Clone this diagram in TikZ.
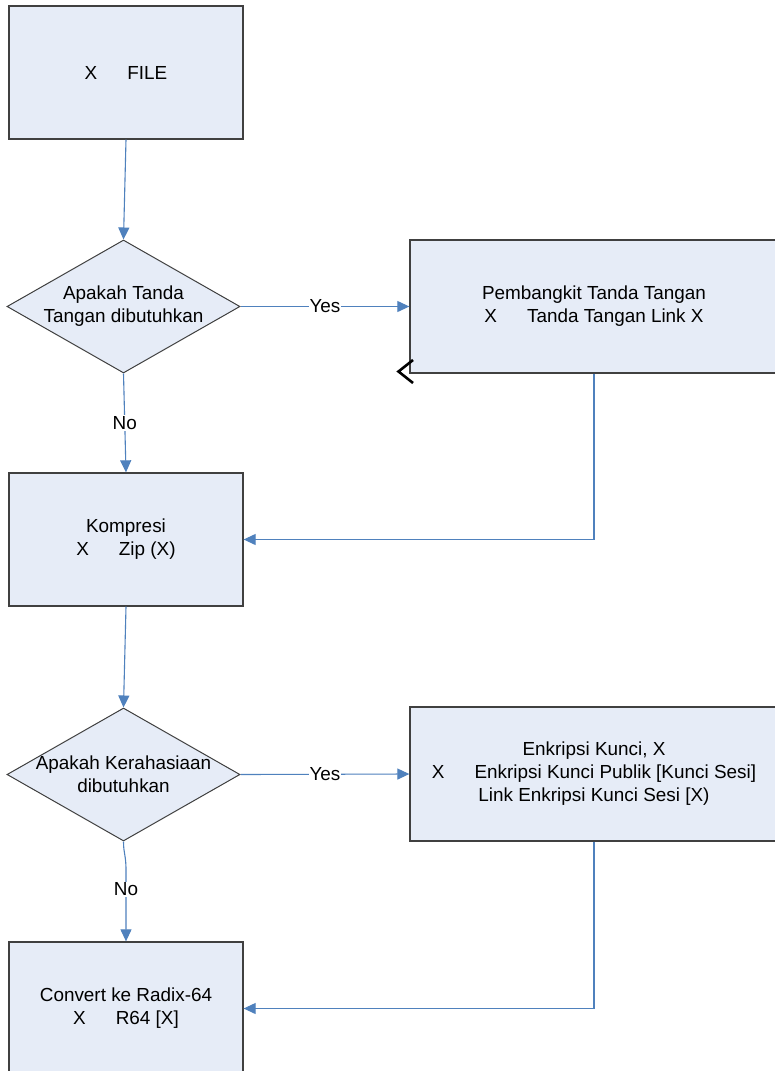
\documentclass[tikz,border=0pt]{standalone}
\usepackage{fontspec}
\setmainfont{Liberation Sans}
\usetikzlibrary{shapes.geometric,arrows.meta}
\definecolor{boxfill}{RGB}{230,236,247}
\definecolor{boxline}{RGB}{64,64,64}
\definecolor{flow}{RGB}{79,129,189}
\newcommand\xgap{\hspace{30pt}}
\begin{document}
\begin{tikzpicture}[x=1pt,y=-1pt,
  every node/.style={font=\fontsize{18.9pt}{23pt}\selectfont},
  procbox/.style={draw=boxline, fill=boxfill, line width=1.3pt, rectangle,
    inner sep=0pt, align=center},
  decision/.style={draw=boxline, fill=boxfill, line width=1pt, diamond,
    inner sep=0pt, minimum width=233pt, minimum height=133pt},
  dtext/.style={align=center, inner sep=0pt},
  flowline/.style={draw=flow, line width=1.1pt,
    -{Triangle[length=12pt,width=11pt]}},
  choice/.style={fill=white, inner sep=1pt}]
\clip (0,0) rectangle (775,1071);
\fill[white] (0,0) rectangle (775,1071);

% process boxes and decisions
\node[procbox, minimum width=234pt, minimum height=133pt] (file) at (126,72.5)
  {X\xgap FILE};
\node[decision] (d1) at (123.5,306.5) {};
\node[dtext] (d1t) at (d1.center) {Apakah Tanda\\Tangan dibutuhkan};
\node[procbox, minimum width=368pt, minimum height=133pt] (sign) at (594,306.5)
  {Pembangkit Tanda Tangan\\X\xgap Tanda Tangan Link X};
\node[procbox, minimum width=234pt, minimum height=133pt] (komp) at (126,539.5)
  {Kompresi\\X\xgap Zip (X)};
\node[decision] (d2) at (123.5,774.5) {};
\node[dtext] (d2t) at (d2.center) {Apakah Kerahasiaan\\dibutuhkan};
\node[procbox, minimum width=368pt, minimum height=134pt] (enc) at (594,774)
  {Enkripsi Kunci, X\\X\xgap Enkripsi Kunci Publik [Kunci Sesi]\\Link Enkripsi Kunci Sesi [X)};
\node[procbox, minimum width=234pt, minimum height=133pt] (radix) at (126,1008.5)
  {Convert ke Radix-64\\X\xgap R64 [X]};

% stray open arrow tip at the corner of the signature box
\draw[black, line width=2.6pt] (413,360) -- (398.5,371.5) -- (413,383);

% connectors
\coordinate (bend) at (126,870);
\draw[flowline] (file.south) -- (d1.north);
\draw[flowline] (d1.east) -- node[choice] {Yes} (sign.west);
\draw[flowline] (d1.south) -- node[choice] {No} (komp.north);
\draw[flowline] (sign.south) |- (komp.east);
\draw[flowline] (komp.south) -- (d2.north);
\draw[flowline] (d2.east) -- node[choice] {Yes} (enc.west);
\draw[flowline] (d2.south) .. controls +(0,12) and +(0,-15) .. (bend)
  -- node[choice, pos=0.27] {No} (radix.north);
\draw[flowline] (enc.south) |- (radix.east);
\end{tikzpicture}
\end{document}
